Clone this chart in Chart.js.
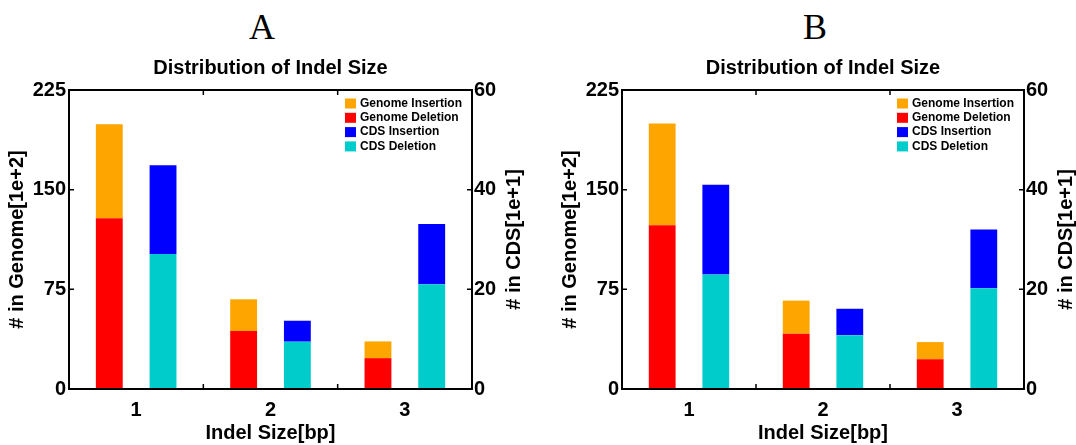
<!DOCTYPE html>
<html>
<head>
<meta charset="utf-8">
<script src="https://cdn.jsdelivr.net/npm/chart.js@4.4.1/dist/chart.umd.min.js"></script>
<style>
  html, body { margin: 0; padding: 0; background: #fff; }
  body { width: 1076px; height: 445px; position: relative; overflow: hidden; }
  canvas { position: absolute; top: 0; }
  .panel-label {
    position: absolute; top: 9px; width: 100px; text-align: center;
    font-family: "Liberation Serif", "Times New Roman", serif;
    font-size: 36px; line-height: 36px; color: #000;
  }
</style>
</head>
<body>
<div class="panel-label" style="left:212px">A</div>
<div class="panel-label" style="left:765px">B</div>
<canvas id="chartA" width="540" height="445" style="left:0px"></canvas>
<canvas id="chartB" width="523" height="445" style="left:553px"></canvas>
<script>
// indel size categories (bp)
const categories = ['1', '2', '3'];

// panel A (stacked segment heights)
const genomeDelA = [128.5, 43.6, 23.2];
const genomeInsA = [70.8, 23.9, 12.6];
const cdsDelA = [27.1, 9.5, 21.0];
const cdsInsA = [17.8, 4.2, 12.1];

// panel B
const genomeDelB = [123.2, 41.6, 22.4];
const genomeInsB = [76.6, 24.9, 12.9];
const cdsDelB = [23.0, 10.8, 20.2];
const cdsInsB = [18.0, 5.3, 11.8];

// axis ticks
const genomeTicks = [0, 75, 150, 225];
const cdsTicks = [0, 20, 40, 60];

const FONT = '"Liberation Sans", Arial, sans-serif';
Chart.defaults.font.family = FONT;
Chart.defaults.font.weight = 'bold';
Chart.defaults.color = '#000';

const legendOrder = [1, 0, 3, 2]; // ins above del in the legend

// black box, inward ticks, right axis title and legend inside the plot
const framePlugin = {
    id: 'frame',
    afterDraw(chart, args, opts) {
        const { ctx, chartArea: a, scales } = chart;
        ctx.save();
        ctx.strokeStyle = '#000';
        ctx.lineWidth = 2;
        ctx.strokeRect(a.left, a.top, a.right - a.left, a.bottom - a.top);

        const len = 5;
        ctx.lineWidth = 1.5;
        ctx.beginPath();
        scales.y.ticks.forEach(t => {
            const y = scales.y.getPixelForValue(t.value);
            ctx.moveTo(a.left, y);
            ctx.lineTo(a.left + len, y);
        });
        scales.y1.ticks.forEach(t => {
            const y = scales.y1.getPixelForValue(t.value);
            ctx.moveTo(a.right, y);
            ctx.lineTo(a.right - len, y);
        });
        for (let i = 0; i < categories.length - 1; i++) {
            const x = (scales.x.getPixelForValue(i) + scales.x.getPixelForValue(i + 1)) / 2;
            ctx.moveTo(x, a.top);
            ctx.lineTo(x, a.top + len);
            ctx.moveTo(x, a.bottom);
            ctx.lineTo(x, a.bottom - len);
        }
        ctx.stroke();

        // right axis title reads bottom-to-top
        ctx.save();
        ctx.translate(a.right + 42, (a.top + a.bottom) / 2);
        ctx.rotate(-Math.PI / 2);
        ctx.font = 'bold 20px ' + FONT;
        ctx.textAlign = 'center';
        ctx.textBaseline = 'middle';
        ctx.fillStyle = '#000';
        ctx.fillText(opts.rightTitle, 0, 0);
        ctx.restore();

        // legend
        ctx.font = 'bold 12px ' + FONT;
        ctx.textBaseline = 'middle';
        ctx.textAlign = 'left';
        const sets = legendOrder.map(i => chart.data.datasets[i]);
        const maxW = Math.max(...sets.map(d => ctx.measureText(d.label).width));
        const textX = a.right - 10 - maxW;
        sets.forEach((d, i) => {
            const cy = a.top + 13.5 + i * 14.3;
            ctx.fillStyle = d.backgroundColor;
            ctx.fillRect(textX - 15, cy - 5, 11, 10);
            ctx.fillStyle = '#000';
            ctx.fillText(d.label, textX, cy);
        });
        ctx.restore();
    }
};

function makeChart(id, gDel, gIns, cDel, cIns, rightW) {
    return new Chart(document.getElementById(id), {
        type: 'bar',
        data: {
            labels: categories,
            datasets: [
                { label: 'Genome Deletion', data: gDel, backgroundColor: '#FF0000', stack: 'genome', yAxisID: 'y' },
                { label: 'Genome Insertion', data: gIns, backgroundColor: '#FFA500', stack: 'genome', yAxisID: 'y' },
                { label: 'CDS Deletion', data: cDel, backgroundColor: '#00CCCC', stack: 'cds', yAxisID: 'y1' },
                { label: 'CDS Insertion', data: cIns, backgroundColor: '#0000FF', stack: 'cds', yAxisID: 'y1' }
            ]
        },
        options: {
            responsive: false,
            animation: false,
            devicePixelRatio: 1,
            categoryPercentage: 0.8,
            barPercentage: 0.5,
            layout: { padding: 0 },
            scales: {
                x: {
                    stacked: true,
                    grid: { display: false, drawTicks: false },
                    border: { display: false },
                    ticks: { font: { size: 20, weight: 'bold' }, padding: 9 },
                    title: { display: true, text: 'Indel Size[bp]', font: { size: 20, weight: 'bold' }, padding: 0 },
                    afterFit: s => { s.height = 56; }
                },
                y: {
                    position: 'left',
                    stacked: true,
                    min: 0,
                    max: 225,
                    afterBuildTicks: s => { s.ticks = genomeTicks.map(v => ({ value: v })); },
                    grid: { display: false, drawTicks: false },
                    border: { display: false },
                    ticks: { font: { size: 20, weight: 'bold' }, padding: 3 },
                    title: { display: true, text: '# in Genome[1e+2]', font: { size: 20, weight: 'bold' }, padding: { top: 5, bottom: 0 } },
                    afterFit: s => { s.width = 69; }
                },
                y1: {
                    position: 'right',
                    stacked: true,
                    min: 0,
                    max: 60,
                    afterBuildTicks: s => { s.ticks = cdsTicks.map(v => ({ value: v })); },
                    grid: { display: false, drawTicks: false },
                    border: { display: false },
                    ticks: { font: { size: 20, weight: 'bold' }, padding: 2 },
                    afterFit: s => { s.width = rightW; }
                }
            },
            plugins: {
                legend: { display: false },
                tooltip: { enabled: false },
                title: {
                    display: true,
                    fullSize: false,
                    text: 'Distribution of Indel Size',
                    font: { size: 20, weight: 'bold' },
                    color: '#000',
                    padding: { top: 56, bottom: 10 }
                },
                frame: { rightTitle: '# in CDS[1e+1]' }
            }
        },
        plugins: [framePlugin]
    });
}

makeChart('chartA', genomeDelA, genomeInsA, cdsDelA, cdsInsA, 68);
makeChart('chartB', genomeDelB, genomeInsB, cdsDelB, cdsInsB, 52);
</script>
</body>
</html>
